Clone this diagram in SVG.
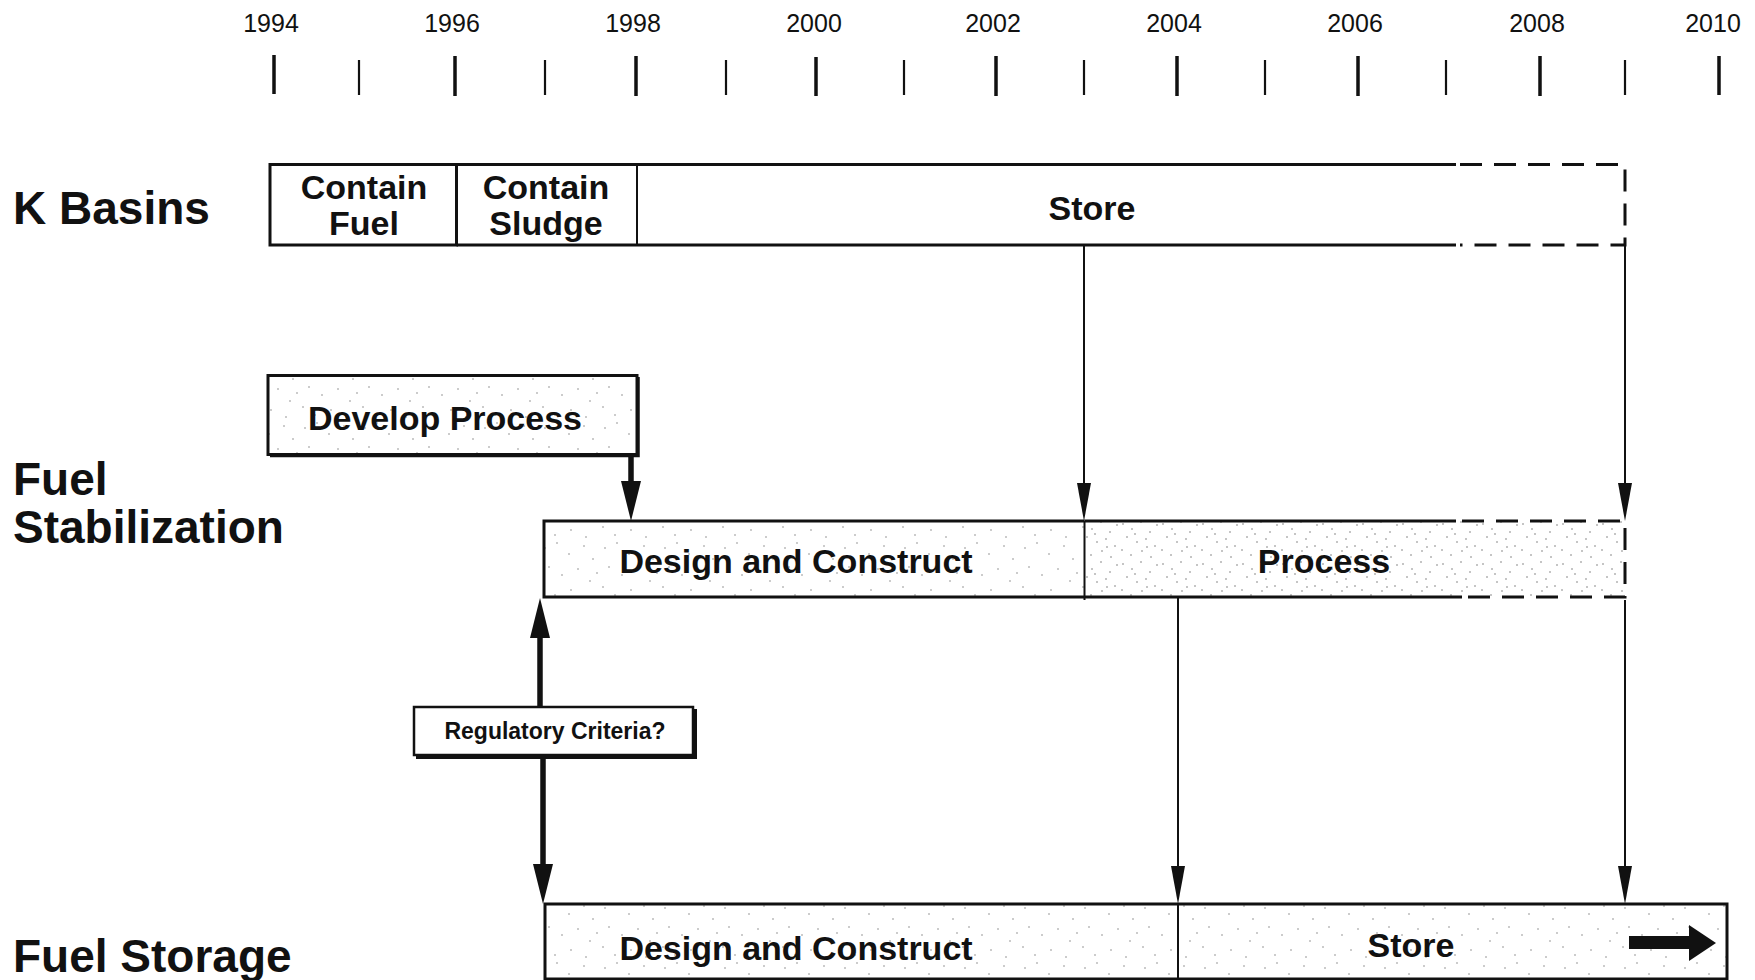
<svg xmlns="http://www.w3.org/2000/svg" width="1755" height="980" viewBox="0 0 1755 980">
<style>
  .yr { font-family: "Liberation Sans", Arial, sans-serif; font-size: 25px; fill: #111; text-anchor: middle; }
  .row { font-family: "Liberation Sans", Arial, sans-serif; font-size: 46px; font-weight: bold; fill: #111; }
  .bt { font-family: "Liberation Sans", Arial, sans-serif; font-size: 34px; font-weight: bold; fill: #111; text-anchor: middle; }
  .st { font-family: "Liberation Sans", Arial, sans-serif; font-size: 23px; font-weight: bold; fill: #111; text-anchor: middle; }
  .maj { stroke: #111; stroke-width: 3.5; }
  .min { stroke: #111; stroke-width: 2.2; }
  .edge { stroke: #111; stroke-width: 3; fill: none; }
  .dash { stroke: #111; stroke-width: 3; fill: none; stroke-dasharray: 22 12; }
  .div { stroke: #111; stroke-width: 2; }
  .thin { stroke: #111; stroke-width: 2; fill: none; }
  .thick { stroke: #111; stroke-width: 5.5; fill: none; }
</style>
<defs>
  <pattern id="stip" width="60" height="60" patternUnits="userSpaceOnUse">
    <g fill="#8a8a8a">
      <circle cx="5" cy="8" r="0.8"/><circle cx="17" cy="3" r="0.8"/><circle cx="29" cy="14" r="0.8"/>
      <circle cx="44" cy="6" r="0.8"/><circle cx="53" cy="19" r="0.8"/><circle cx="9" cy="27" r="0.8"/>
      <circle cx="22" cy="35" r="0.8"/><circle cx="38" cy="29" r="0.8"/><circle cx="50" cy="41" r="0.8"/>
      <circle cx="3" cy="47" r="0.8"/><circle cx="15" cy="55" r="0.8"/><circle cx="31" cy="50" r="0.8"/>
      <circle cx="46" cy="57" r="0.8"/><circle cx="57" cy="33" r="0.8"/>
    </g>
  </pattern>
  <pattern id="stip2" width="40" height="40" patternUnits="userSpaceOnUse">
    <g fill="#7a7a7a">
      <circle cx="3" cy="4" r="0.8"/><circle cx="12" cy="9" r="0.8"/><circle cx="21" cy="2" r="0.8"/>
      <circle cx="30" cy="12" r="0.8"/><circle cx="37" cy="5" r="0.8"/><circle cx="7" cy="17" r="0.8"/>
      <circle cx="17" cy="22" r="0.8"/><circle cx="26" cy="19" r="0.8"/><circle cx="35" cy="26" r="0.8"/>
      <circle cx="2" cy="30" r="0.8"/><circle cx="11" cy="35" r="0.8"/><circle cx="22" cy="31" r="0.8"/>
      <circle cx="31" cy="37" r="0.8"/><circle cx="15" cy="14" r="0.8"/><circle cx="27" cy="27" r="0.8"/>
    </g>
  </pattern>
  <marker id="hThin" markerUnits="userSpaceOnUse" markerWidth="38" markerHeight="14" refX="0" refY="7" orient="auto">
    <path d="M0,0 L38,7 L0,14 z" fill="#111"/>
  </marker>
  <marker id="hThick" markerUnits="userSpaceOnUse" markerWidth="40" markerHeight="20" refX="0" refY="10" orient="auto">
    <path d="M0,0 L40,10 L0,20 z" fill="#111"/>
  </marker>
</defs>
<rect width="1755" height="980" fill="#fff"/>

<g id="axis">
  <text class="yr" x="271" y="32">1994</text>
  <text class="yr" x="452" y="32">1996</text>
  <text class="yr" x="633" y="32">1998</text>
  <text class="yr" x="814" y="32">2000</text>
  <text class="yr" x="993" y="32">2002</text>
  <text class="yr" x="1174" y="32">2004</text>
  <text class="yr" x="1355" y="32">2006</text>
  <text class="yr" x="1537" y="32">2008</text>
  <text class="yr" x="1713" y="32">2010</text>
  <line class="maj" x1="274" y1="55" x2="274" y2="94"/>
  <line class="min" x1="359" y1="60" x2="359" y2="95"/>
  <line class="maj" x1="455" y1="56" x2="455" y2="96"/>
  <line class="min" x1="545" y1="60" x2="545" y2="95"/>
  <line class="maj" x1="636" y1="56" x2="636" y2="96"/>
  <line class="min" x1="726" y1="60" x2="726" y2="95"/>
  <line class="maj" x1="816" y1="57" x2="816" y2="96"/>
  <line class="min" x1="904" y1="60" x2="904" y2="95"/>
  <line class="maj" x1="996" y1="56" x2="996" y2="96"/>
  <line class="min" x1="1084" y1="60" x2="1084" y2="95"/>
  <line class="maj" x1="1177" y1="56" x2="1177" y2="96"/>
  <line class="min" x1="1265" y1="60" x2="1265" y2="95"/>
  <line class="maj" x1="1358" y1="56" x2="1358" y2="96"/>
  <line class="min" x1="1446" y1="60" x2="1446" y2="95"/>
  <line class="maj" x1="1540" y1="56" x2="1540" y2="96"/>
  <line class="min" x1="1625" y1="60" x2="1625" y2="95"/>
  <line class="maj" x1="1719" y1="56" x2="1719" y2="95"/>
</g>

<g id="row-labels">
  <text class="row" x="13" y="224">K Basins</text>
  <text class="row" x="13" y="495">Fuel</text>
  <text class="row" x="13" y="543">Stabilization</text>
  <text class="row" x="13" y="972">Fuel Storage</text>
</g>

<g id="kb-contain-fuel">
  <rect x="270" y="164.5" width="186.5" height="80.5" fill="#fff" stroke="#111" stroke-width="3"/>
  <text class="bt" x="364" y="199">Contain</text>
  <text class="bt" x="364" y="235">Fuel</text>
</g>
<g id="kb-contain-sludge">
  <line class="edge" x1="456.5" y1="164.5" x2="637" y2="164.5"/>
  <line class="edge" x1="456.5" y1="245" x2="637" y2="245"/>
  <line class="div" x1="637" y1="164.5" x2="637" y2="245"/>
  <text class="bt" x="546" y="199">Contain</text>
  <text class="bt" x="546" y="235">Sludge</text>
</g>
<g id="kb-store">
  <line class="edge" x1="637" y1="164.5" x2="1456" y2="164.5"/>
  <line class="edge" x1="637" y1="245" x2="1456" y2="245"/>
  <path class="dash" d="M1460,164.5 H1625 V245 H1460"/>
  <text class="bt" x="1092" y="220">Store</text>
</g>

<g id="fs-develop-process">
  <rect x="268" y="375.5" width="369" height="79" fill="url(#stip)" stroke="#111" stroke-width="3"/>
  <path d="M638.5,377 V456 H270" fill="none" stroke="#111" stroke-width="2.5"/>
  <text class="bt" x="445" y="430">Develop Process</text>
</g>

<g id="fs-design-construct">
  <rect x="544" y="521" width="540.5" height="76" fill="url(#stip)" stroke="none"/>
  <path class="edge" d="M1084.5,521 H544 V597 H1084.5"/>
  <text class="bt" x="796" y="573">Design and Construct</text>
</g>
<g id="fs-process">
  <rect x="1084.5" y="521" width="540.5" height="76" fill="url(#stip2)" stroke="none"/>
  <line class="edge" x1="1084.5" y1="521" x2="1456" y2="521"/>
  <line class="edge" x1="1084.5" y1="597" x2="1462" y2="597"/>
  <path class="dash" d="M1462,521 H1625 V597 H1468"/>
  <text class="bt" x="1324" y="573">Process</text>
</g>

<g id="regulatory-criteria">
  <rect x="414" y="707" width="279" height="48" fill="#fff" stroke="#111" stroke-width="2.5"/>
  <path d="M695.5,709 V757.5 H416" fill="none" stroke="#111" stroke-width="3"/>
  <text class="st" x="555" y="739">Regulatory Criteria?</text>
</g>

<g id="st-design-construct">
  <rect x="545" y="904" width="633" height="75" fill="url(#stip)" stroke="none"/>
  <path class="edge" d="M1178,904 H545 V979 H1178"/>
  <text class="bt" x="796" y="960">Design and Construct</text>
</g>
<g id="st-store">
  <rect x="1178" y="904" width="549" height="75" fill="url(#stip)" stroke="none"/>
  <path class="edge" d="M1178,904 H1727 V979 H1178"/>
  <text class="bt" x="1411" y="957">Store</text>
  <path d="M1629,936 H1689 V925 L1716,943 L1689,961 V949 H1629 z" fill="#111"/>
</g>

<g id="connectors">
  <line class="div" x1="1084.5" y1="521" x2="1084.5" y2="600"/>
  <line class="div" x1="1178" y1="904" x2="1178" y2="979"/>
  <line class="thick" x1="631" y1="456" x2="631" y2="481" marker-end="url(#hThick)"/>
  <line class="thin" x1="1084" y1="245" x2="1084" y2="483" marker-end="url(#hThin)"/>
  <line class="thin" x1="1625" y1="245" x2="1625" y2="483" marker-end="url(#hThin)"/>
  <line class="thin" x1="1178" y1="597" x2="1178" y2="866" marker-end="url(#hThin)"/>
  <line class="thin" x1="1625" y1="600" x2="1625" y2="866" marker-end="url(#hThin)"/>
  <line class="thick" x1="540" y1="707" x2="540" y2="638" marker-end="url(#hThick)"/>
  <line class="thick" x1="543" y1="757" x2="543" y2="864" marker-end="url(#hThick)"/>
</g>
</svg>
